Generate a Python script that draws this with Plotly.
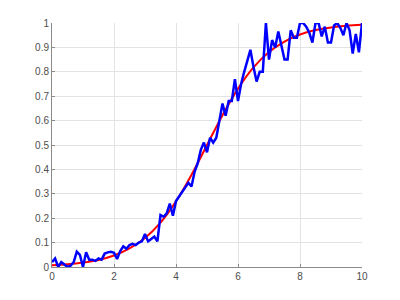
import plotly.graph_objects as go

# Blue noisy series (x step 0.1)
blue_x = [round(i * 0.1, 1) for i in range(101)]
blue_y = [0.02, 0.035, 0.0, 0.02, 0.01, 0.0, 0.005, 0.02, 0.063, 0.05,
          0.0, 0.06, 0.03, 0.03, 0.025, 0.035, 0.03, 0.055, 0.06, 0.062,
          0.058, 0.033, 0.065, 0.085, 0.075, 0.09, 0.095, 0.09, 0.1, 0.105,
          0.135, 0.105, 0.115, 0.125, 0.105, 0.213, 0.206, 0.22, 0.26, 0.21,
          0.27, 0.29, 0.31, 0.33, 0.345, 0.33, 0.39, 0.425, 0.48, 0.51,
          0.47, 0.53, 0.51, 0.53, 0.60, 0.67, 0.62, 0.68, 0.68, 0.77,
          0.68, 0.75, 0.80, 0.85, 0.89, 0.82, 0.76, 0.80, 0.80, 1.0,
          0.85, 0.93, 0.90, 0.965, 0.91, 0.85, 0.85, 0.97, 0.94, 0.94,
          1.0, 1.0, 0.985, 0.96, 0.92, 1.0, 1.0, 0.945, 0.985, 0.92,
          0.92, 0.99, 1.0, 0.98, 0.95, 1.0, 0.97, 0.875, 0.955, 0.88,
          1.0]

# Red smooth curve (read at x step 0.5)
red_x = [i * 0.5 for i in range(21)]
red_y = [0.007, 0.011, 0.018, 0.029, 0.047, 0.076, 0.119, 0.182, 0.269, 0.378,
         0.5, 0.622, 0.731, 0.818, 0.881, 0.924, 0.953, 0.971, 0.982, 0.989, 0.993]

x_ticks = [0, 2, 4, 6, 8, 10]
y_ticks = [0, 0.1, 0.2, 0.3, 0.4, 0.5, 0.6, 0.7, 0.8, 0.9, 1]
y_labels = ["0", "0.1", "0.2", "0.3", "0.4", "0.5", "0.6", "0.7", "0.8", "0.9", "1"]

fig = go.Figure()
fig.add_trace(go.Scatter(x=red_x, y=red_y, mode="lines",
                         line=dict(color="#ff0000", width=2, shape="spline"),
                         showlegend=False, hoverinfo="skip"))
fig.add_trace(go.Scatter(x=blue_x, y=blue_y, mode="lines",
                         line=dict(color="#0000ff", width=2.5),
                         showlegend=False, hoverinfo="skip"))

axis_common = dict(showgrid=True, gridcolor="#e3e3e3", gridwidth=1,
                   zeroline=False, showline=True, linecolor="#8a8a8a", linewidth=1,
                   ticks="inside", ticklen=3, tickcolor="#8a8a8a",
                   tickfont=dict(family="Liberation Sans, Arial", size=10, color="#4d4d4d"))

fig.update_xaxes(range=[0, 10], tickvals=x_ticks, ticktext=[str(v) for v in x_ticks],
                 **axis_common)
fig.update_yaxes(range=[0, 1], tickvals=y_ticks, ticktext=y_labels, **axis_common)

fig.update_layout(width=400, height=300,
                  margin=dict(l=52, r=38, t=23, b=33),
                  paper_bgcolor="white", plot_bgcolor="white")

fig.write_html("out.html")
